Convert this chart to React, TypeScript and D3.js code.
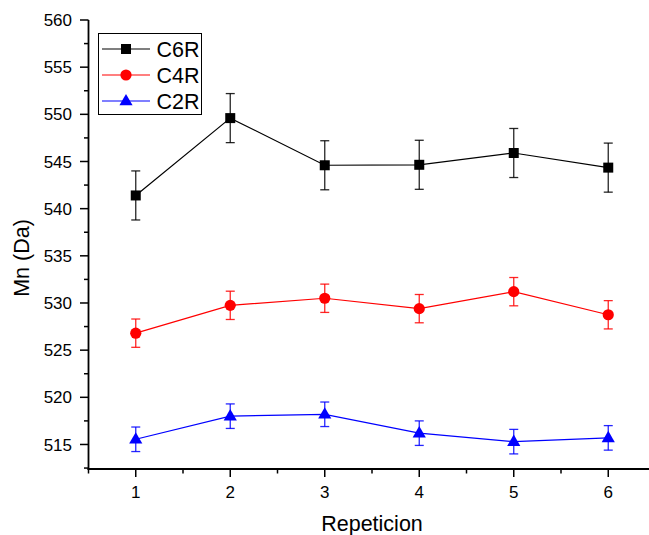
import React from "react";
import * as d3 from "d3";

const repeticion = [1, 2, 3, 4, 5, 6];
const c6r = [541.4, 549.6, 544.6, 544.65, 545.9, 544.35];
const c6rErr = [2.6, 2.6, 2.6, 2.6, 2.6, 2.6];
const c4r = [526.8, 529.75, 530.5, 529.4, 531.2, 528.75];
const c4rErr = [1.5, 1.5, 1.5, 1.5, 1.5, 1.5];
const c2r = [515.55, 518.0, 518.2, 516.2, 515.3, 515.7];
const c2rErr = [1.3, 1.3, 1.3, 1.3, 1.3, 1.3];
const yTicks = [515, 520, 525, 530, 535, 540, 545, 550, 555, 560];
const xTicks = [1, 2, 3, 4, 5, 6];
const seriesNames = ["C6R", "C4R", "C2R"];
const seriesColors = ["#000000", "#ff0000", "#0000ff"];

const W = 649;
const H = 535;
const FONT = "'Liberation Sans', Arial, sans-serif";

export default function App() {
  const x = d3.scaleLinear().domain([0.5, 6.5]).range([88.5, 655.5]);
  const y = d3.scaleLinear().domain([512.4, 560]).range([469, 20]);
  const line = d3
    .line<[number, number]>()
    .x((d) => x(d[0]))
    .y((d) => y(d[1]));

  const series = [
    { name: seriesNames[0], vals: c6r, err: c6rErr, color: seriesColors[0], shape: "square" },
    { name: seriesNames[1], vals: c4r, err: c4rErr, color: seriesColors[1], shape: "circle" },
    { name: seriesNames[2], vals: c2r, err: c2rErr, color: seriesColors[2], shape: "triangle" },
  ];

  const marker = (shape: string, cx: number, cy: number, color: string, key?: any) => {
    if (shape === "square")
      return <rect key={key} x={cx - 5} y={cy - 5} width={10} height={10} fill={color} />;
    if (shape === "circle") return <circle key={key} cx={cx} cy={cy} r={5.6} fill={color} />;
    const sym = d3.symbol(d3.symbolTriangle, 75)();
    return <path key={key} d={sym as string} transform={`translate(${cx},${cy + 0.5})`} fill={color} />;
  };

  const minorY = d3.range(512.5, 560.01, 2.5).filter((v) => !yTicks.includes(v));
  const minorX = d3.range(1.5, 6.6, 1);

  return (
    <svg
      width={W}
      height={H}
      style={{ position: "absolute", left: 0, top: 0, background: "#fff" }}
      fontFamily={FONT}
    >
      <rect x={0} y={0} width={W} height={H} fill="#fff" />
      {/* series */}
      {series.map((s, si) => (
        <g key={si}>
          <path
            d={line(repeticion.map((r, i) => [r, s.vals[i]]) as [number, number][]) as string}
            fill="none"
            stroke={s.color}
            strokeWidth={1.2}
          />
          {repeticion.map((r, i) => {
            const cx = x(r);
            const t = y(s.vals[i] + s.err[i]);
            const b = y(s.vals[i] - s.err[i]);
            return (
              <g key={i} stroke={s.color} strokeWidth={1.3} strokeOpacity={0.85}>
                <line x1={cx} x2={cx} y1={t} y2={b} />
                <line x1={cx - 4.5} x2={cx + 4.5} y1={t} y2={t} />
                <line x1={cx - 4.5} x2={cx + 4.5} y1={b} y2={b} />
              </g>
            );
          })}
          {repeticion.map((r, i) => marker(s.shape, x(r), y(s.vals[i]), s.color, i))}
        </g>
      ))}

      {/* y axis */}
      <line x1={88.5} x2={88.5} y1={20} y2={470} stroke="#000" strokeWidth={1.8} />
      {yTicks.map((t) => (
        <g key={t}>
          <line x1={80} x2={88.5} y1={y(t)} y2={y(t)} stroke="#000" strokeWidth={1.5} />
          <text x={72} y={y(t)} dy="0.36em" textAnchor="end" fontSize={17} fill="#000">
            {t}
          </text>
        </g>
      ))}
      {minorY.map((t) => (
        <line key={t} x1={84} x2={88.5} y1={y(t)} y2={y(t)} stroke="#000" strokeWidth={1.5} />
      ))}

      {/* x axis */}
      <line x1={87.6} x2={W} y1={469} y2={469} stroke="#000" strokeWidth={1.8} />
      {xTicks.map((t) => (
        <g key={t}>
          <line x1={x(t)} x2={x(t)} y1={469} y2={477} stroke="#000" strokeWidth={1.5} />
          <text x={x(t)} y={497.5} textAnchor="middle" fontSize={17} fill="#000">
            {t}
          </text>
        </g>
      ))}
      {[0.5, ...minorX].map((t) => (
        <line key={t} x1={x(t)} x2={x(t)} y1={469} y2={473.5} stroke="#000" strokeWidth={1.5} />
      ))}

      {/* axis titles */}
      <text x={372} y={531} textAnchor="middle" fontSize={21.5} fill="#000">
        Repeticion
      </text>
      <text
        transform={`translate(29,258) rotate(-90)`}
        textAnchor="middle"
        fontSize={21.5}
        fill="#000"
      >
        Mn (Da)
      </text>

      {/* legend */}
      <rect x={98.5} y={33.5} width={103} height={81} fill="#fff" stroke="#000" strokeWidth={1} />
      {series.map((s, i) => {
        const ly = 49 + i * 26;
        return (
          <g key={i}>
            <line x1={102} x2={150} y1={ly} y2={ly} stroke={s.color} strokeWidth={1.2} />
            {marker(s.shape, 126, ly, s.color)}
            <text x={156.5} y={ly} dy="0.36em" fontSize={21.5} fill="#000">
              {s.name}
            </text>
          </g>
        );
      })}
    </svg>
  );
}
